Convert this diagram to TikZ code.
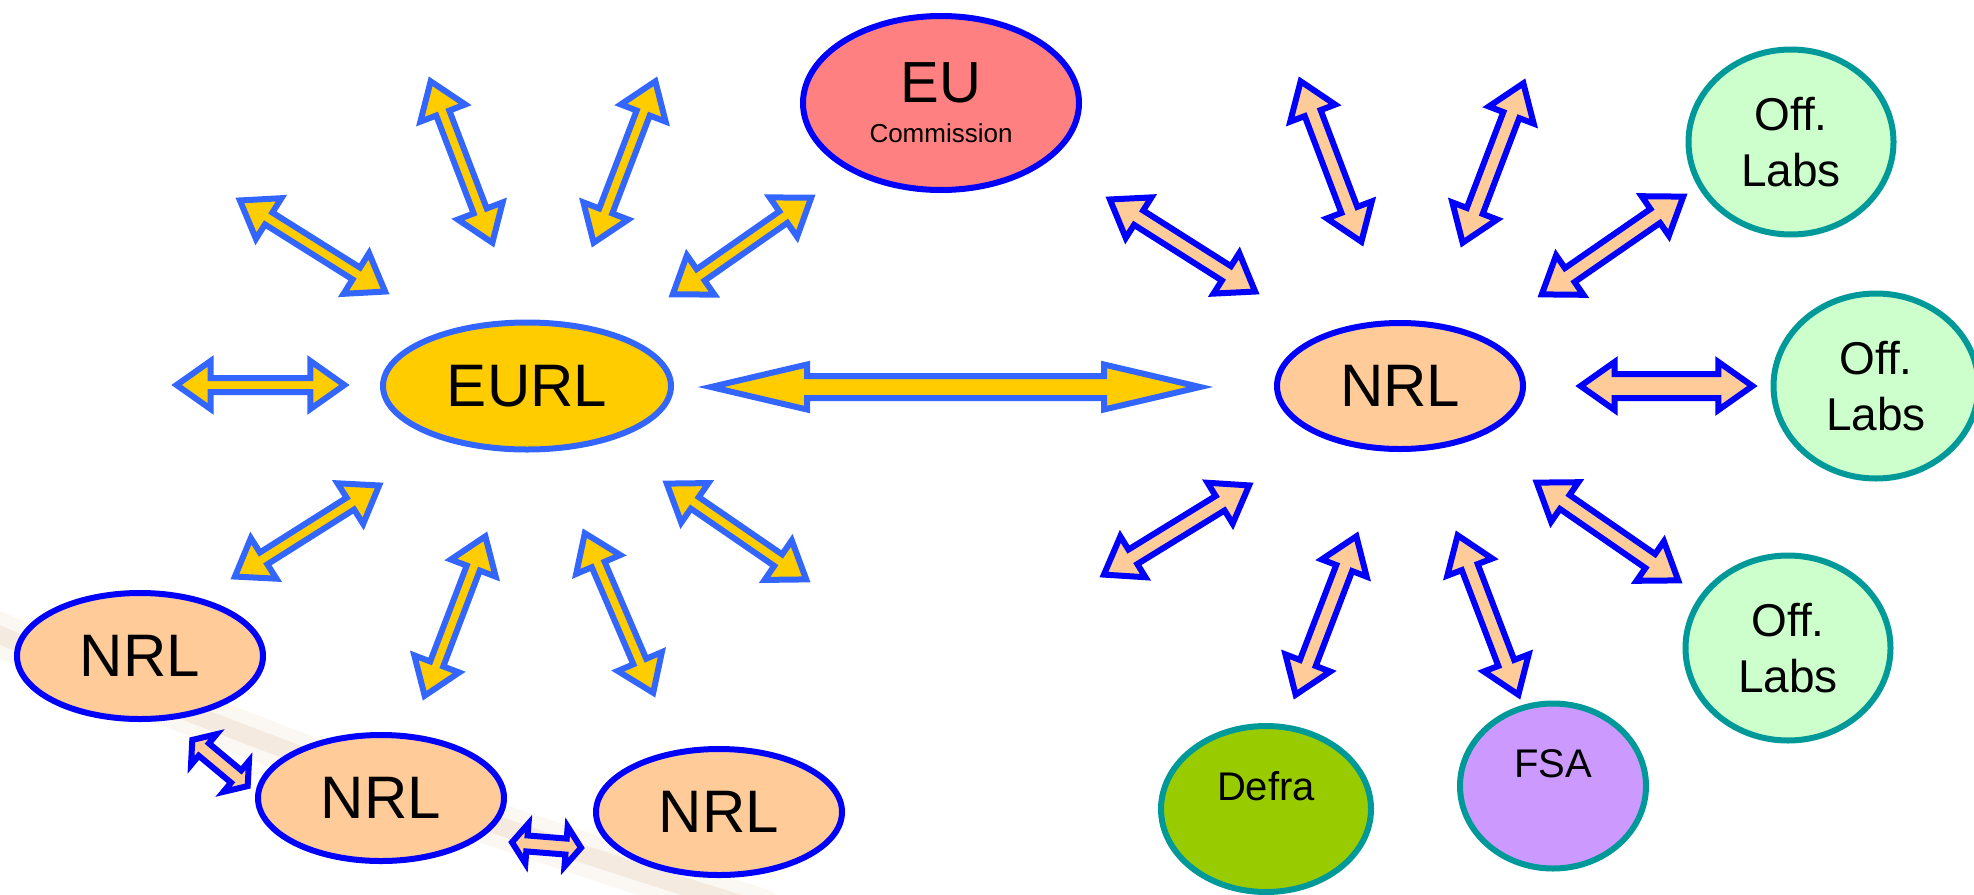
\documentclass[tikz,border=0pt]{standalone}
\usepackage{fontspec}
\setmainfont{Liberation Sans}[Ligatures=NoCommon]
\usetikzlibrary{shapes.geometric,calc}

\definecolor{eurlyellow}{HTML}{FFCC00}
\definecolor{eurlblue}{HTML}{3366FF}
\definecolor{nrlblue}{HTML}{0000FF}
\definecolor{nrlpeach}{HTML}{FFCC99}
\definecolor{eupink}{HTML}{FF8080}
\definecolor{offgreen}{HTML}{CCFFCC}
\definecolor{offteal}{HTML}{009999}
\definecolor{defragreen}{HTML}{99CC00}
\definecolor{fsaviolet}{HTML}{CC99FF}
\definecolor{bandtan}{HTML}{D9B48C}

\tikzset{
  tiplen/.store in=\tiplen, tiplen=17pt,
  tiphalf/.store in=\tiphalf, tiphalf=12pt,
  shafthalf/.store in=\shafthalf, shafthalf=3.5pt,
  tipinset/.store in=\tipinset, tipinset=2.3pt,
}

% block arrow with a head at both ends, from #2 to #3
\newcommand{\blockarrow}[3][]{%
  \coordinate (ba-s) at #2;
  \coordinate (ba-e) at #3;
  \draw[#1] ($(ba-s)!\tipinset!(ba-e)$) coordinate (ba-p)
    ($(ba-e)!\tipinset!(ba-s)$) coordinate (ba-q)
    (ba-p) -- ($(ba-p)!\tiplen!(ba-q)!\tiphalf!90:(ba-q)$)
    -- ($(ba-p)!\tiplen!(ba-q)!\shafthalf!90:(ba-q)$)
    -- ($(ba-q)!\tiplen!(ba-p)!\shafthalf!-90:(ba-p)$)
    -- ($(ba-q)!\tiplen!(ba-p)!\tiphalf!-90:(ba-p)$)
    -- (ba-q)
    -- ($(ba-q)!\tiplen!(ba-p)!\tiphalf!90:(ba-p)$)
    -- ($(ba-q)!\tiplen!(ba-p)!\shafthalf!90:(ba-p)$)
    -- ($(ba-p)!\tiplen!(ba-q)!\shafthalf!-90:(ba-q)$)
    -- ($(ba-p)!\tiplen!(ba-q)!\tiphalf!-90:(ba-q)$)
    -- cycle;}

\begin{document}
\begin{tikzpicture}[x=0.5pt, y=-0.5pt,
    lab/.style={ellipse, line width=3pt, inner sep=0pt, align=center},
    eurl/.style={lab, draw=eurlblue, fill=eurlyellow, minimum width=144pt, minimum height=63.5pt, font=\fontsize{30}{36}\selectfont},
    eu/.style={lab, draw=nrlblue, fill=eupink, minimum width=138pt, minimum height=87pt, font=\fontsize{29}{20}\selectfont},
    nrl/.style={lab, draw=nrlblue, fill=nrlpeach, minimum width=123pt, minimum height=63pt, font=\fontsize{30}{36}\selectfont},
    offlab/.style={lab, draw=offteal, fill=offgreen, minimum width=102.5pt, minimum height=92.5pt, font=\fontsize{23}{28}\selectfont},
    agency/.style={lab, draw=offteal},
    agencytext/.style={font=\fontsize{20}{24}\selectfont, yshift=11.25pt},
    eurlarrow/.style={draw=eurlblue, fill=eurlyellow, line width=3pt},
    nrlarrow/.style={draw=nrlblue, fill=nrlpeach, line width=3pt, shafthalf=4.25pt},
    smallarrow/.style={nrlarrow, tiplen=7.5pt, tiphalf=10pt, shafthalf=4pt, tipinset=1.5pt},
  ]
  \useasboundingbox (0,0) rectangle (1974,894);

  % faded band behind the NRL chain
  \draw[bandtan, line width=22pt, opacity=0.1, line cap=round] (-30,622) .. controls (200,722) and (450,815) .. (760,910);
  \draw[bandtan, line width=9pt, opacity=0.2] (-30,622) .. controls (200,722) and (450,815) .. (760,910);

  % arrows round the EURL
  \blockarrow[eurlarrow]{(172,385)}{(349,385)}
  \blockarrow[eurlarrow]{(236,198)}{(389,294)}
  \blockarrow[eurlarrow]{(429,77)}{(494,247)}
  \blockarrow[eurlarrow]{(657,77)}{(592,247)}
  \blockarrow[eurlarrow]{(815,195)}{(669,297)}
  \blockarrow[eurlarrow, tiplen=48pt, tiphalf=11.25pt, shafthalf=5.5pt, tipinset=6pt]{(699,387)}{(1212,387)}
  \blockarrow[eurlarrow]{(663,481)}{(810,582)}
  \blockarrow[eurlarrow]{(583,529)}{(655,697)}
  \blockarrow[eurlarrow]{(487,532)}{(423,700)}
  \blockarrow[eurlarrow]{(383,483)}{(231,579)}

  % arrows round the NRL
  \blockarrow[nrlarrow]{(1106,197)}{(1259,294)}
  \blockarrow[nrlarrow]{(1299,77)}{(1363,246)}
  \blockarrow[nrlarrow]{(1525,79)}{(1461,247)}
  \blockarrow[nrlarrow]{(1687,194)}{(1538,297)}
  \blockarrow[nrlarrow, shafthalf=6pt]{(1576,386)}{(1757,386)}
  \blockarrow[nrlarrow]{(1533,480)}{(1682,583)}
  \blockarrow[nrlarrow]{(1456,531)}{(1520,699)}
  \blockarrow[nrlarrow]{(1358,532)}{(1294,699)}
  \blockarrow[nrlarrow]{(1253,483)}{(1100,577)}

  % NRL to NRL
  \blockarrow[smallarrow]{(190,738)}{(250,788)}
  \blockarrow[smallarrow]{(509,842)}{(584,848)}

  \node[eurl] (eurl) at (527,386) {EURL};
  \node[eu] (eu) at (941,103) {EU\\{\fontsize{13}{20}\selectfont Commission}};
  \node[nrl] (nrlhub) at (1400,386) {NRL};
  \node[nrl] (nrla) at (140,656) {NRL};
  \node[nrl] (nrlb) at (381,798) {NRL};
  \node[nrl] (nrlc) at (719,812) {NRL};
  \node[offlab] (offa) at (1791,142) {Off.\\Labs};
  \node[offlab] (offb) at (1876,386) {Off.\\Labs};
  \node[offlab] (offc) at (1788,648) {Off.\\Labs};
  \node[agency, fill=defragreen, minimum width=105pt, minimum height=83pt,
        label={[agencytext]center:Defra}] (defra) at (1266,809) {};
  \node[agency, fill=fsaviolet, minimum width=93pt, minimum height=82.5pt,
        label={[agencytext]center:FSA}] (fsa) at (1553,786) {};
\end{tikzpicture}
\end{document}
